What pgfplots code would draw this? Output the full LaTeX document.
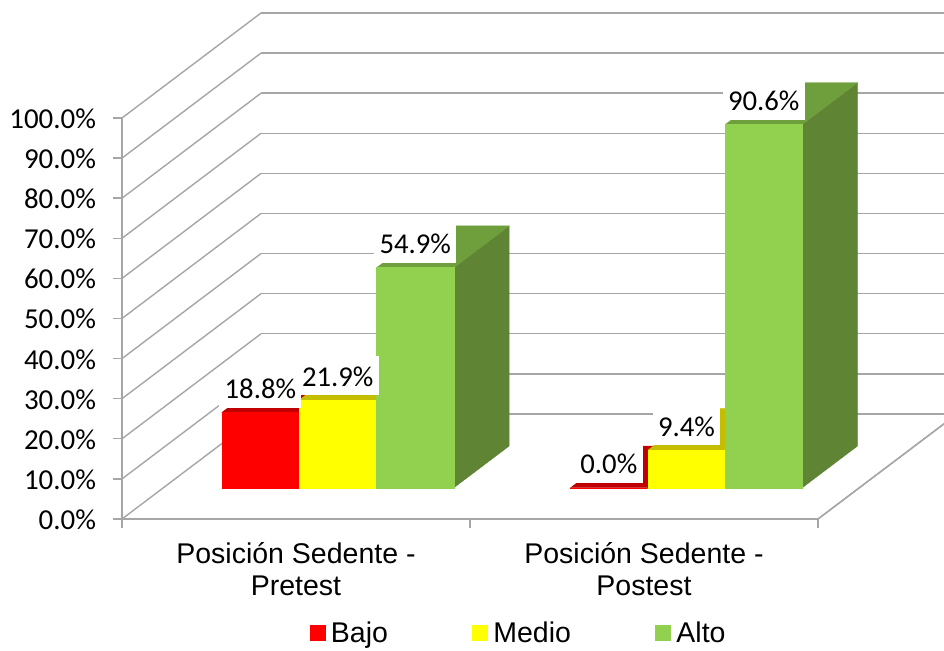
\documentclass[border=0pt]{standalone}
\usepackage{fontspec}
\setmainfont{Carlito}
\newfontfamily\arialfont{Liberation Sans}
\usepackage{pgfplots}
\pgfplotsset{compat=1.18}

\definecolor{gridgray}{HTML}{A6A6A6}
\definecolor{redfront}{HTML}{FF0000}
\definecolor{redtop}{HTML}{C00000}
\definecolor{yellowfront}{HTML}{FFFF00}
\definecolor{yellowtop}{HTML}{C4BD00}
\definecolor{greenfront}{HTML}{92D050}
\definecolor{greentop}{HTML}{6F9E3C}
\definecolor{greenside}{HTML}{5F8433}

% One box: left, right, height, front colour, top colour, side colour.
% The boxes stand between the depths 0.298 and 0.695 of the floor.
\newcommand{\boxbar}[6]{%
  \addplot3[fill=#6,draw=#6,line width=0.3pt,forget plot] coordinates
    {(#2,0.298,0) (#2,0.695,0) (#2,0.695,#3) (#2,0.298,#3)};
  \addplot3[fill=#5,draw=#5,line width=0.3pt,forget plot] coordinates
    {(#1,0.298,#3) (#2,0.298,#3) (#2,0.695,#3) (#1,0.695,#3)};
  \addplot3[fill=#4,draw=#4,line width=0.3pt,forget plot] coordinates
    {(#1,0.298,0) (#2,0.298,0) (#2,0.298,#3) (#1,0.298,#3)};
}
% Value label on a white plate, sitting on the front top edge of a box.
\newcommand{\barlabel}[2]{%
  \node[fill=white,anchor=south,inner xsep=5.3pt,inner ysep=0pt,
        text height=30pt,text depth=9pt,yshift=4.6pt,
        font=\fontsize{28.7}{32}\selectfont]
    at (axis cs:#1,0.298,#2) {#2\%};
}

\begin{document}
\begin{tikzpicture}[x=1pt,y=1pt]
\clip[use as bounding box] (0,0) rectangle (944,650);
\begin{axis}[
  at={(122pt,131pt)}, anchor=origin,
  x={(348pt,0pt)}, y={(139pt,105pt)}, z={(0pt,4.01pt)},
  xmin=0, xmax=2, ymin=0, ymax=1, zmin=0, zmax=100,
  clip=false,
  axis lines*=left,
  axis line style={gridgray,line width=1.4pt},
  major tick length=0pt,
  zmajorgrids=true,
  major grid style={gridgray,line width=1.4pt},
  xtick={0.5,1.5},
  xticklabels={Posición Sedente -\\Pretest,Posición Sedente -\\Postest},
  x tick label style={align=center,xshift=15pt,yshift=-20pt,
    font=\arialfont\fontsize{28.5}{32}\selectfont},
  ytick=\empty,
  ztick={0,10,...,100},
  zticklabel={\pgfmathprintnumber{\tick}\%},
  /pgf/number format/fixed,
  /pgf/number format/fixed zerofill,
  /pgf/number format/precision=1,
  /pgf/number format/assume math mode=true,
  z tick label style={anchor=east,xshift=-22.5pt,yshift=-0.7pt,
    font=\fontsize{28.9}{32}\selectfont},
  legend style={
    at={(0.4749,-0.225)}, anchor=center, draw=none, fill=none,
    legend columns=3, inner sep=0pt,
    font=\arialfont\fontsize{28.5}{32}\selectfont,
    /tikz/every even column/.append style={column sep=82pt},
    /tikz/every odd column/.append style={column sep=4pt},
  },
  legend image code/.code={
    \fill[#1] (0pt,-7.5pt) rectangle (15pt,7.5pt);
  },
]
% tick marks on the value axis, level with the page
\pgfplotsinvokeforeach{0,10,20,30,40,50,60,70,80,90,100}{
  \addplot3[gridgray,line width=1.4pt,forget plot] coordinates {(-0.026,0,#1) (0,0,#1)};
}
% tick marks between the two groups, straight down
\pgfplotsinvokeforeach{0,1,2}{
  \addplot3[gridgray,line width=1.4pt,forget plot] coordinates {(#1,0,-2.2) (#1,0,0)};
}
% floor edge on the right-hand side
\addplot3[gridgray,line width=1.4pt,forget plot] coordinates {(2,0,0) (2,1,0)};

% first group
\boxbar{0.1675}{0.3897}{18.8}{redfront}{redtop}{redtop}
\boxbar{0.3897}{0.6122}{21.9}{yellowfront}{yellowtop}{yellowtop}
\boxbar{0.6122}{0.8350}{54.9}{greenfront}{greentop}{greenside}
% second group
\boxbar{1.1690}{1.3915}{0.0}{redfront}{redtop}{redtop}
\boxbar{1.3915}{1.6140}{9.4}{yellowfront}{yellowtop}{yellowtop}
\boxbar{1.6140}{1.8360}{90.6}{greenfront}{greentop}{greenside}

\barlabel{0.2786}{18.8}
\barlabel{0.5010}{21.9}
\barlabel{0.7236}{54.9}
\barlabel{1.2800}{0.0}
\barlabel{1.5030}{9.4}
\barlabel{1.7250}{90.6}

\addlegendimage{redfront}\addlegendentry{Bajo}
\addlegendimage{yellowfront}\addlegendentry{Medio}
\addlegendimage{greenfront}\addlegendentry{Alto}
\end{axis}
\end{tikzpicture}
\end{document}
